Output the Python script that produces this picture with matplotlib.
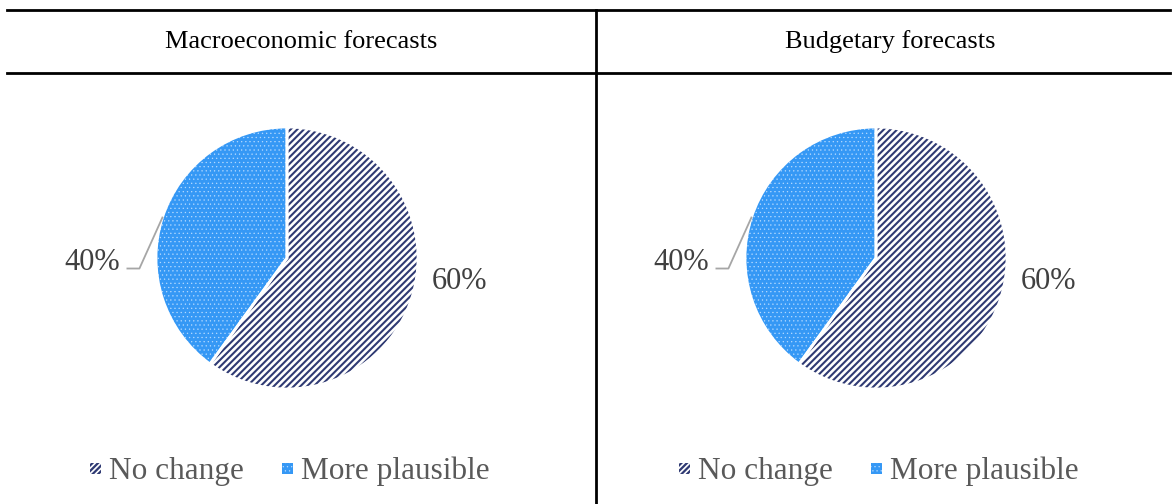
import numpy as np
import matplotlib.pyplot as plt
from matplotlib.patches import Rectangle

plt.rcParams['font.family'] = ['Liberation Serif', 'DejaVu Serif']
plt.rcParams['hatch.linewidth'] = 1.5

panels = ['Macroeconomic forecasts', 'Budgetary forecasts']
categories = ['No change', 'More plausible']
shares = [[60, 40], [60, 40]]

navy = '#2F3A73'
blue = '#3598F5'
dots = '#B5DAFF'
W, H = 1176, 504

fig = plt.figure(figsize=(11.76, 5.04), dpi=100)
ax = fig.add_axes([0, 0, 1, 1])

# table frame
ax.plot([7, 1170], [H - 10, H - 10], color='black', lw=2)
ax.plot([7, 1170], [H - 73, H - 73], color='black', lw=2)
ax.plot([596, 596], [H - 10, 0], color='black', lw=2)


def set_hlw(p, w):
    if hasattr(p, 'set_hatch_linewidth'):
        p.set_hatch_linewidth(w)


offsets = [0, 589]
for i, (title, vals) in enumerate(zip(panels, shares)):
    dx = offsets[i]
    cx, cy, r = 287 + dx, H - 258, 131

    ax.text(301 + dx, H - 42, title, ha='center', va='center', fontsize=19, color='black')

    wedges, _ = ax.pie(vals, startangle=90, counterclock=False, center=(cx, cy), radius=r,
                       colors=['white', blue],
                       wedgeprops=dict(linewidth=0))
    wedges[0].set_hatch('/////')
    wedges[0].set_edgecolor(navy)
    set_hlw(wedges[0], 1.5)
    wedges[1].set_hatch('....')
    wedges[1].set_edgecolor(dots)
    set_hlw(wedges[1], 0.4)
    # white gap between slices
    ax.pie(vals, startangle=90, counterclock=False, center=(cx, cy), radius=r,
           colors=['none', 'none'], wedgeprops=dict(linewidth=2, edgecolor='white'))

    # labels
    total = sum(vals)
    start = 90
    for k, v in enumerate(vals):
        mid = np.deg2rad(start - 360 * v / total / 2)
        start -= 360 * v / total
        ex, ey = cx + r * np.cos(mid), cy + r * np.sin(mid)
        pct = f'{round(100 * v / total)}%'
        if np.cos(mid) < 0:
            ax.plot([ex, ex - 23, ex - 35], [ey, ey - 51, ey - 51], color='#A6A6A6', lw=1.3)
            ax.text(ex - 70, ey - 45, pct, ha='center', va='center', fontsize=22, color='#404040')
        else:
            ax.text(ex + 48, ey + 17, pct, ha='center', va='center', fontsize=22, color='#404040')

    # legend
    lx = [90 + dx, 282 + dx]
    for k, name in enumerate(categories):
        if k == 0:
            p = Rectangle((lx[k], H - 474), 11, 11, facecolor='white', edgecolor=navy,
                          hatch='//////', lw=0)
            set_hlw(p, 1.6)
        else:
            p = Rectangle((lx[k], H - 474), 11, 11, facecolor=blue, edgecolor=dots,
                          hatch='....', lw=0)
            set_hlw(p, 0.4)
        ax.add_patch(p)
        ax.text(lx[k] + 19, H - 471, name, ha='left', va='center', fontsize=22.5, color='#595959')

ax.set_xlim(0, W)
ax.set_ylim(0, H)
ax.set_aspect('auto')
ax.axis('off')

fig.savefig('out.png', dpi=100)
